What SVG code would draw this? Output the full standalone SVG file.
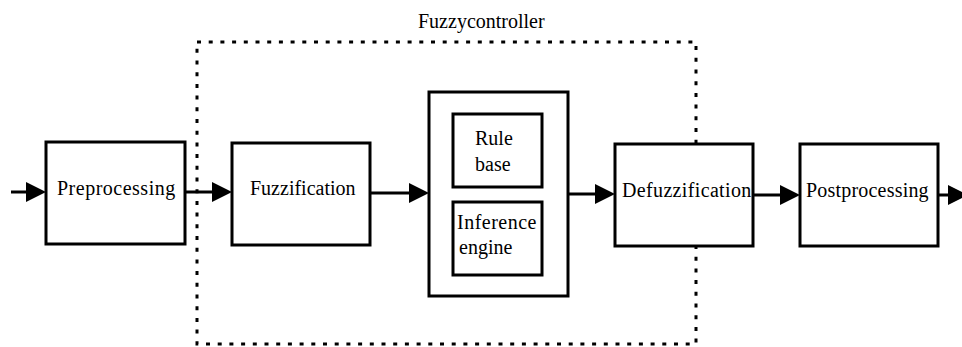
<svg xmlns="http://www.w3.org/2000/svg" width="962" height="347" viewBox="0 0 962 347">
  <defs>
    <style>
      .box { fill: #fff; stroke: #000; stroke-width: 3; }
      .frame { fill: none; stroke: #000; stroke-width: 3; stroke-dasharray: 4 7.7; }
      .wire { fill: none; stroke: #000; stroke-width: 3; }
    </style>
    <marker id="head" markerUnits="userSpaceOnUse" markerWidth="20" markerHeight="20" refX="10" refY="10" orient="auto" overflow="visible">
      <path d="M0,0 L20,10 L0,20 Z" fill="#000"/>
    </marker>
  </defs>

  <!-- fuzzy controller boundary -->
  <g id="fuzzy-controller">
    <rect class="frame" x="197" y="42" width="499" height="302"/>
    <text x="418" y="28" font-size="20" font-family="Times New Roman">Fuzzycontroller</text>
  </g>

  <g id="preprocessing">
    <rect class="box" x="46" y="142" width="139" height="102"/>
    <text x="57" y="195" font-size="20" font-family="Times New Roman" letter-spacing="0.5">Preprocessing</text>
  </g>

  <g id="fuzzification">
    <rect class="box" x="232" y="143" width="138" height="102"/>
    <text x="250" y="195" font-size="20" font-family="Times New Roman">Fuzzification</text>
  </g>

  <g id="inference-unit">
    <rect class="box" x="429" y="92" width="139" height="204"/>
    <g id="rule-base">
      <rect class="box" x="453" y="114" width="89" height="73"/>
      <text x="475" y="145" font-size="20" font-family="Times New Roman">Rule</text>
      <text x="475" y="171" font-size="20" font-family="Times New Roman">base</text>
    </g>
    <g id="inference-engine">
      <rect class="box" x="453" y="202" width="89" height="73"/>
      <text x="457" y="229" font-size="20" font-family="Times New Roman" letter-spacing="0.5">Inference</text>
      <text x="459" y="254" font-size="20" font-family="Times New Roman">engine</text>
    </g>
  </g>

  <g id="defuzzification">
    <rect class="box" x="615" y="144" width="138" height="102"/>
    <text x="622" y="197" font-size="20" font-family="Times New Roman" letter-spacing="0.35">Defuzzification</text>
  </g>

  <g id="postprocessing">
    <rect class="box" x="800" y="144" width="138" height="102"/>
    <text x="806" y="197" font-size="20" font-family="Times New Roman" letter-spacing="0.2">Postprocessing</text>
  </g>

  <!-- signal flow -->
  <g id="connectors">
    <line class="wire" x1="11" y1="192" x2="36" y2="192" marker-end="url(#head)"/>
    <line class="wire" x1="185" y1="192" x2="222" y2="192" marker-end="url(#head)"/>
    <line class="wire" x1="370" y1="193" x2="419" y2="193" marker-end="url(#head)"/>
    <line class="wire" x1="568" y1="194" x2="605" y2="194" marker-end="url(#head)"/>
    <line class="wire" x1="753" y1="195" x2="790" y2="195" marker-end="url(#head)"/>
    <line class="wire" x1="938" y1="195" x2="958" y2="195" marker-end="url(#head)"/>
  </g>
</svg>
